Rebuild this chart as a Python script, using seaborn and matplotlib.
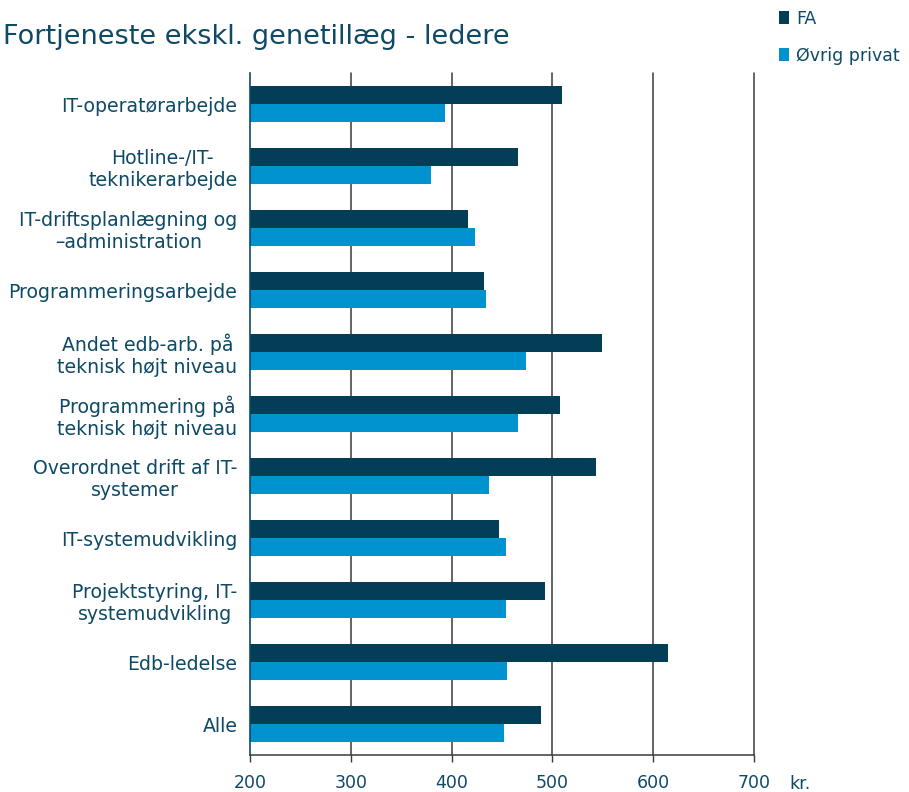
import pandas as pd
import numpy as np

import seaborn as sns
import matplotlib.pyplot as plt

# categories and values (kr.)
kategorier = [
    "IT-operatørarbejde",
    "Hotline-/IT-\nteknikerarbejde",
    "IT-driftsplanlægning og\n–administration",
    "Programmeringsarbejde",
    "Andet edb-arb. på\nteknisk højt niveau",
    "Programmering på\nteknisk højt niveau",
    "Overordnet drift af IT-\nsystemer",
    "IT-systemudvikling",
    "Projektstyring, IT-\nsystemudvikling",
    "Edb-ledelse",
    "Alle",
]
fa = [510, 466, 416, 432, 549, 508, 543, 447, 493, 615, 489]
ovrig = [393, 380, 423, 434, 474, 466, 437, 454, 454, 455, 452]
serier = ["FA", "Øvrig privat"]
farver = ["#023F57", "#0093D0"]
xticks = [200, 300, 400, 500, 600, 700]

tekst = "#0E4A66"

data = pd.DataFrame({
    "kategori": kategorier * 2,
    "kr": fa + ovrig,
    "serie": [serier[0]] * len(kategorier) + [serier[1]] * len(kategorier),
})

sns.set_style("white")
plt.rcParams['font.family'] = ['DejaVu Sans']

fig = plt.figure(figsize=(9.09, 7.92), dpi=100)
ax = fig.add_axes([0.2750, 0.0467, 0.5545, 0.8611])

sns.barplot(data=data, y="kategori", x="kr", hue="serie", orient="h",
            palette=farver, saturation=1, width=0.58, linewidth=0,
            ax=ax, zorder=3)

ax.set_xlim(200, 700)
ax.set_ylim(10.5, -0.5)
ax.set_xticks(xticks)
ax.set_xlabel("")
ax.set_ylabel("")

# grid lines
for v in xticks[1:]:
    ax.axvline(v, color="#3a3a3a", lw=1.1, zorder=1, clip_on=False)

for s in ["top", "right"]:
    ax.spines[s].set_visible(False)
ax.spines["left"].set_color("#0E4A66")
ax.spines["left"].set_linewidth(1.2)
ax.spines["left"].set_zorder(4)
ax.spines["bottom"].set_color("#3a3a3a")
ax.spines["bottom"].set_linewidth(1.1)

ax.tick_params(axis="x", direction="out", length=5, width=1, color="#3a3a3a",
               pad=9, labelsize=12.5, labelcolor=tekst, bottom=True)
ax.tick_params(axis="y", length=0, pad=9, labelsize=13.6, labelcolor=tekst)
for lbl in ax.get_yticklabels():
    lbl.set_multialignment("center")

# legend
sns.move_legend(ax, "upper left", bbox_to_anchor=(763 / 909, 1 + 6 / 792),
                bbox_transform=fig.transFigure, frameon=False, title=None,
                fontsize=12.5, handlelength=0.6, handleheight=0.8,
                handletextpad=0.4, labelspacing=1.1, labelcolor=tekst)

fig.text(3 / 909, 1 - 37 / 792, "Fortjeneste ekskl. genetillæg - ledere",
         fontsize=19.5, color=tekst, va="center", ha="left")
fig.text(789 / 909, 1 - 784 / 792, "kr.", fontsize=12.5, color=tekst,
         va="center", ha="left")

plt.savefig("out.png", dpi=100)
